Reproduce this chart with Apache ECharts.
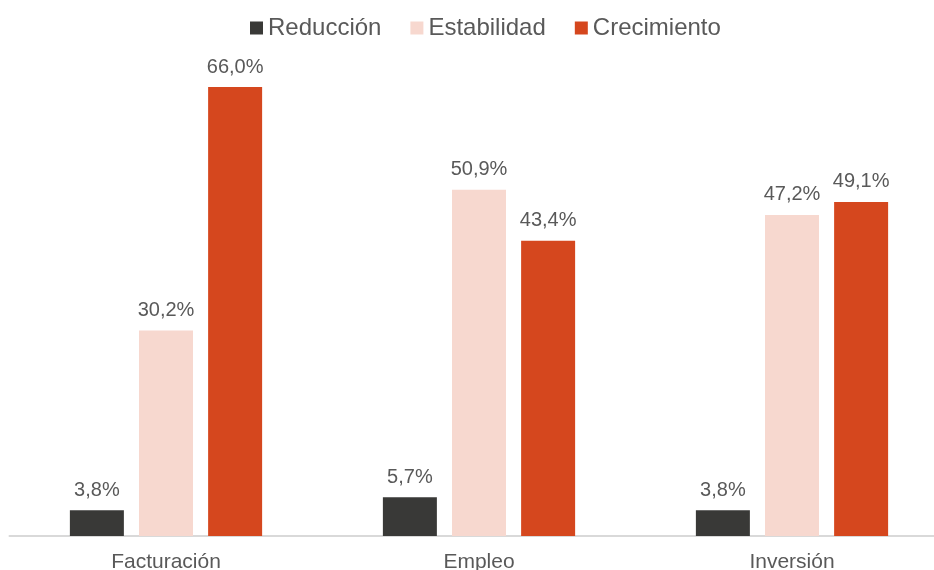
<!DOCTYPE html>
<html>
<head>
<meta charset="utf-8">
<script src="https://cdn.jsdelivr.net/npm/echarts@6/dist/echarts.min.js"></script>
<style>html,body{margin:0;padding:0;background:#fff}#c{width:934px;height:570px}</style>
</head>
<body>
<div id="c"></div>
<script>
const categories = ['Facturación', 'Empleo', 'Inversión'];
const reduccion = [3.8, 5.7, 3.8];
const estabilidad = [30.2, 50.9, 47.2];
const crecimiento = [66.0, 43.4, 49.1];
const seriesNames = ['Reducción', 'Estabilidad', 'Crecimiento'];
const colors = ['#393937', '#F7D8CF', '#D5471E'];

const chart = echarts.init(document.getElementById('c'), null, {renderer: 'canvas'});
const fmt = p => p.value.toFixed(1).replace('.', ',') + '%';
const FONT = 'Liberation Sans, Arial, sans-serif';
const mk = (name, data, color) => ({
  name, type: 'bar', data, barWidth: 54, barGap: '28%',
  itemStyle: {color},
  label: {show: true, position: 'top', distance: 10, formatter: fmt,
    color: '#595959', fontSize: 20, fontFamily: FONT}
});
chart.setOption({
  animation: false,
  legend: {
    top: 11, left: 245, itemWidth: 13, itemHeight: 13, itemGap: 29,
    icon: 'rect',
    textStyle: {color: '#595959', fontSize: 24, fontFamily: FONT},
    data: seriesNames
  },
  grid: {left: 9.5, width: 939, top: 87, bottom: 34, containLabel: false, outerBoundsMode: 'none'},
  xAxis: {
    type: 'category', data: categories,
    axisLine: {lineStyle: {color: '#D9D9D9', width: 2}},
    axisTick: {show: false},
    axisLabel: {color: '#595959', fontSize: 21, margin: 16, fontFamily: FONT}
  },
  yAxis: {type: 'value', min: 0, max: 66, show: false, splitLine: {show: false}},
  series: [
    mk(seriesNames[0], reduccion, colors[0]),
    mk(seriesNames[1], estabilidad, colors[1]),
    mk(seriesNames[2], crecimiento, colors[2])
  ]
});
</script>
</body>
</html>
